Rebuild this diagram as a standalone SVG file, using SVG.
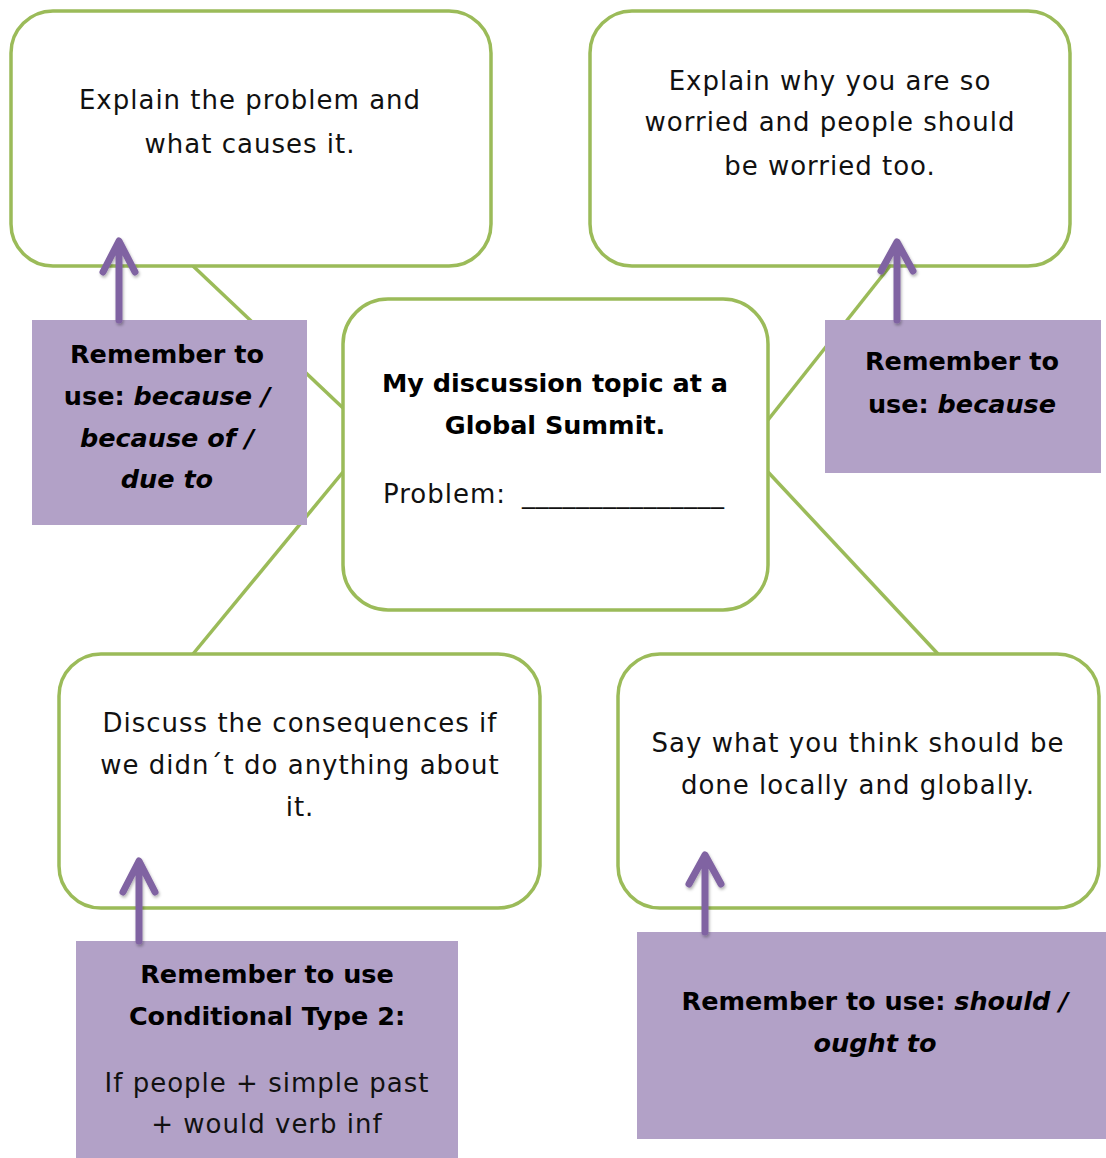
<svg xmlns="http://www.w3.org/2000/svg" width="1106" height="1158" viewBox="0 0 1106 1158">
<defs>
<style>
.box{fill:#ffffff;stroke:#9BBB59;stroke-width:3.5}
.tip{fill:#B2A1C7;stroke:none}
.link{stroke:#9BBB59;stroke-width:3.5;fill:none}
.arrow{stroke:#8064A2;stroke-width:7;fill:none;stroke-linecap:round;stroke-linejoin:round}
.t{font-family:"DejaVu Sans",Verdana,sans-serif;font-size:26px;letter-spacing:1px;fill:#111;text-anchor:middle}
.b{font-family:"DejaVu Sans",Verdana,sans-serif;font-size:25.5px;font-weight:bold;fill:#000;text-anchor:middle}
.i{font-style:italic}
</style>
<filter id="sh" x="-50%" y="-50%" width="200%" height="200%">
<feDropShadow dx="1" dy="2" stdDeviation="1.5" flood-color="#000" flood-opacity="0.3"/>
</filter>
</defs>
<rect width="1106" height="1158" fill="#ffffff"/>
<g id="connectors">
<line class="link" x1="193" y1="266" x2="343" y2="408"/>
<line class="link" x1="343" y1="472" x2="193" y2="654"/>
<line class="link" x1="768" y1="420" x2="890" y2="266"/>
<line class="link" x1="768" y1="472" x2="938" y2="654"/>
</g>
<g id="node-cause">
<rect class="box" x="11" y="11" width="480" height="255" rx="42"/>
<text class="t" x="250" y="109">Explain the problem and</text>
<text class="t" x="250" y="153">what causes it.</text>
</g>
<g id="node-worried">
<rect class="box" x="590" y="11" width="480" height="255" rx="42"/>
<text class="t" x="830" y="90">Explain why you are so</text>
<text class="t" x="830" y="131">worried and people should</text>
<text class="t" x="830" y="175">be worried too.</text>
</g>
<g id="node-center">
<rect class="box" x="343" y="299" width="425" height="311" rx="45"/>
<text class="b" x="555" y="392">My discussion topic at a</text>
<text class="b" x="555" y="434">Global Summit.</text>
<text class="t" x="383" y="503" style="text-anchor:start">Problem: <tspan x="522" style="letter-spacing:0.5px">_______________</tspan></text>
</g>
<g id="node-consequences">
<rect class="box" x="59" y="654" width="481" height="254" rx="42"/>
<text class="t" x="300" y="732">Discuss the consequences if</text>
<text class="t" x="300" y="774">we didn´t do anything about</text>
<text class="t" x="300" y="816">it.</text>
</g>
<g id="node-solutions">
<rect class="box" x="618" y="654" width="481" height="254" rx="42"/>
<text class="t" x="858" y="752">Say what you think should be</text>
<text class="t" x="858" y="794">done locally and globally.</text>
</g>
<g id="tip-because-of">
<rect class="tip" x="32" y="320" width="275" height="205"/>
<text class="b" x="167" y="363">Remember to</text>
<text class="b" x="167" y="405">use: <tspan class="i">because /</tspan></text>
<text class="b i" x="167" y="447">because of /</text>
<text class="b i" x="167" y="488">due to</text>
</g>
<g id="tip-because">
<rect class="tip" x="825" y="320" width="276" height="153"/>
<text class="b" x="962" y="370">Remember to</text>
<text class="b" x="962" y="413">use: <tspan class="i">because</tspan></text>
</g>
<g id="tip-conditional">
<rect class="tip" x="76" y="941" width="382" height="217"/>
<text class="b" x="267" y="983">Remember to use</text>
<text class="b" x="267" y="1025">Conditional Type 2:</text>
<text class="t" x="267" y="1092">If people + simple past</text>
<text class="t" x="267" y="1133">+ would verb inf</text>
</g>
<g id="tip-should">
<rect class="tip" x="637" y="932" width="469" height="207"/>
<text class="b" x="875" y="1010">Remember to use: <tspan class="i">should /</tspan></text>
<text class="b i" x="875" y="1052">ought to</text>
</g>
<g id="arrows" filter="url(#sh)">
<path class="arrow" d="M119 320 V242 M103 272 L119 241 L135 272"/>
<path class="arrow" d="M897 320 V243 M881 271 L897 242 L913 271"/>
<path class="arrow" d="M139 941 V862 M123 892 L139 861 L155 892"/>
<path class="arrow" d="M705 932 V856 M689 884 L705 855 L721 884"/>
</g>
</svg>
